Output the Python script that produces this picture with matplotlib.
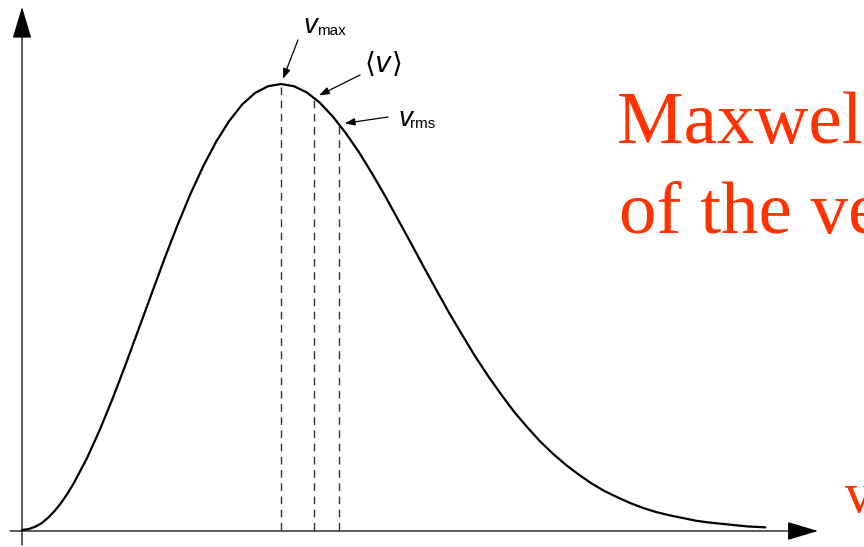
import matplotlib
matplotlib.use("Agg")
import matplotlib.pyplot as plt

# speed in units of the most probable speed, and the distribution normalised to its peak
speed = [0.0, 0.025, 0.05, 0.075, 0.1, 0.125, 0.15, 0.175, 0.2, 0.25, 0.3, 0.35, 0.4,
         0.45, 0.5, 0.55, 0.6, 0.65, 0.7, 0.75, 0.8, 0.85, 0.9, 0.95, 1.0, 1.05, 1.1,
         1.15, 1.2, 1.25, 1.3, 1.35, 1.4, 1.45, 1.5, 1.55, 1.6, 1.65, 1.7, 1.75, 1.8,
         1.85, 1.9, 1.95, 2.0, 2.05, 2.1, 2.15, 2.2, 2.25, 2.3, 2.35, 2.4, 2.45, 2.5,
         2.55, 2.6, 2.65, 2.7, 2.75, 2.8, 2.87]
density = [0.0, 0.002, 0.007, 0.015, 0.027, 0.042, 0.060, 0.081, 0.105, 0.160, 0.224,
           0.295, 0.371, 0.450, 0.529, 0.608, 0.683, 0.753, 0.816, 0.871, 0.917, 0.954,
           0.980, 0.995, 1.0, 0.995, 0.981, 0.958, 0.927, 0.890, 0.848, 0.801, 0.751,
           0.698, 0.645, 0.591, 0.538, 0.486, 0.437, 0.389, 0.345, 0.304, 0.265, 0.231,
           0.199, 0.171, 0.146, 0.124, 0.104, 0.087, 0.073, 0.060, 0.049, 0.040, 0.033,
           0.027, 0.021, 0.017, 0.014, 0.011, 0.008, 0.006]

# characteristic speeds: v_max, <v>, v_rms
mark_speed = [1.0, 1.128, 1.225]
mark_height = [1.0, 0.969, 0.910]

title_lines = ["Maxwell distribution", "of the velocities"]
red = "#ff3300"

W, H = 864, 547
fig = plt.figure(figsize=(W / 100, H / 100), dpi=100)
ax = fig.add_axes([0, 0, 1, 1])
ax.set_xlim(-22 / 259, 842 / 259)
ax.set_ylim(-17 / 446, 530 / 446)
ax.axis("off")

# axes with arrow heads
ax.annotate("", xy=(0, 523 / 446), xytext=(0, -15 / 446),
            arrowprops=dict(arrowstyle="-|>,head_length=2.0,head_width=0.6",
                            lw=0.9, color="black", shrinkA=0, shrinkB=0,
                            mutation_scale=10))
ax.annotate("", xy=(796 / 259, -1 / 446), xytext=(-12 / 259, -1 / 446),
            arrowprops=dict(arrowstyle="-|>,head_length=1.95,head_width=0.58",
                            lw=0.9, color="black", shrinkA=0, shrinkB=0,
                            mutation_scale=10))

# the distribution curve
ax.plot(speed, density, color="black", lw=1.6, solid_joinstyle="round",
        solid_capstyle="round", zorder=3)

# dashed markers under the curve
for s, h in zip(mark_speed, mark_height):
    ax.plot([s, s], [0, h], color="#333333", lw=1.0, dashes=(5.5, 4.0), zorder=2)

# labels with arrows
arrow_kw = dict(arrowstyle="-|>,head_length=0.6,head_width=0.22", lw=0.9,
                color="black", shrinkA=0, shrinkB=4, mutation_scale=10)
starts = [(298, 40), (360, 75), (388, 117)]
for (s, h), (px, py) in zip(zip(mark_speed, mark_height), starts):
    ax.annotate("", xy=(s, h), xycoords="data",
                xytext=(px, H - py), textcoords="figure pixels",
                arrowprops=arrow_kw)

sans = "Liberation Sans"
fig.text(303 / W, 1 - 33 / H, "v", fontsize=20, style="italic", family=sans,
         ha="left", va="baseline")
fig.text(317 / W, 1 - 35 / H, "max", fontsize=11, family=sans,
         ha="left", va="baseline")
fig.text(383 / W, 1 - 64 / H, r"$\langle \mathit{v} \rangle$", fontsize=20,
         ha="center", va="center")
fig.text(398 / W, 1 - 126 / H, "v", fontsize=20, style="italic", family=sans,
         ha="left", va="baseline")
fig.text(410 / W, 1 - 128 / H, "rms", fontsize=11, family=sans,
         ha="left", va="baseline")

# heading on the right, running off the edge
serif = "Liberation Serif"
fig.text(617 / W, 1 - 143 / H, title_lines[0], fontsize=54, family=serif,
         color=red, ha="left", va="baseline")
fig.text(619 / W, 1 - 233 / H, title_lines[1], fontsize=54, family=serif,
         color=red, ha="left", va="baseline")
fig.text(845 / W, 1 - 512 / H, "v", fontsize=40, family=serif,
         color=red, ha="left", va="baseline")

fig.savefig("out.png", dpi=100)
